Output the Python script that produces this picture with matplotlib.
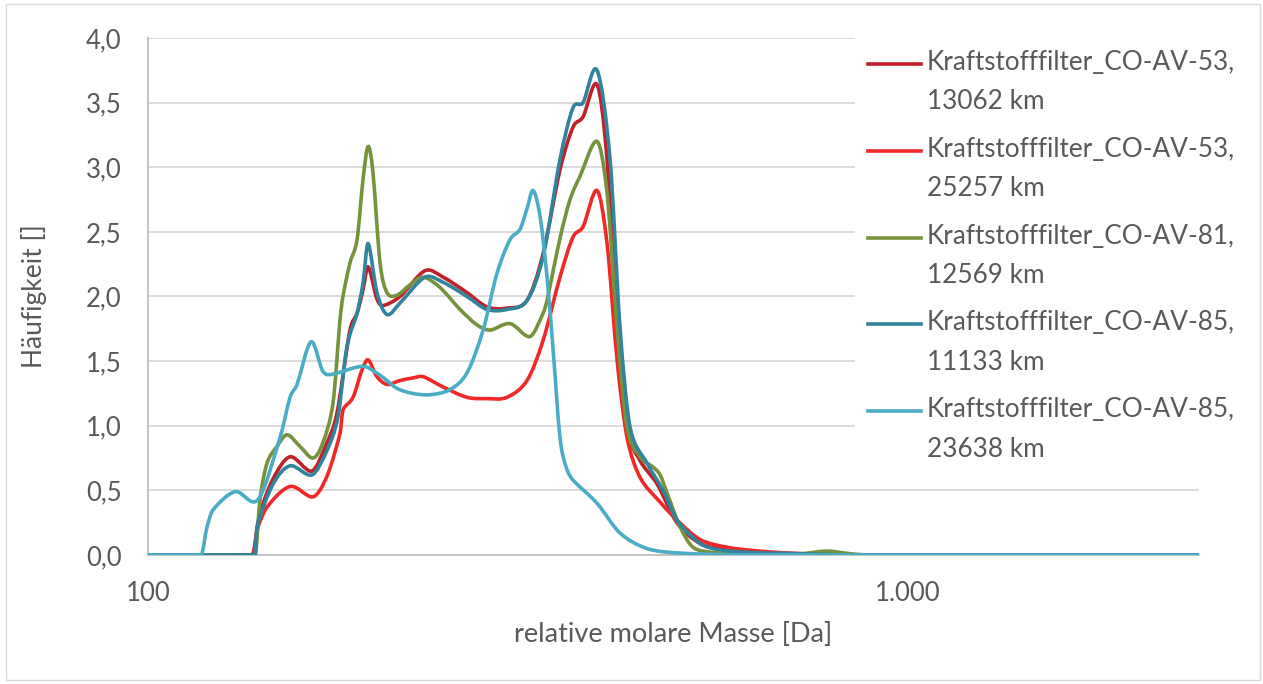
import matplotlib
matplotlib.use('Agg')
import numpy as np
import matplotlib.pyplot as plt
from matplotlib.ticker import FixedLocator, FuncFormatter, NullLocator
from matplotlib.lines import Line2D
from matplotlib.patches import Rectangle, PathPatch
from matplotlib.path import Path

plt.rcParams['font.family'] = ['Lato', 'DejaVu Sans']

# relative molare Masse [Da] und Häufigkeit
m1 = [100, 137.0, 140.4, 146.1, 153.8, 164.4, 172.0, 177.3, 184.4, 188.4, 191.8, 194.8, 200.1,
      203.8, 214.6, 231.5, 244.5, 262.9, 279.3, 296.7, 315.3, 331.0, 348.4, 362.4, 373.6, 389.8,
      401.8, 414.2, 426.9, 444.1, 467.5, 496.7, 532.5, 577.9, 638.7, 720.9, 838.9, 2415]
h1 = [0, 0, 0.32, 0.59, 0.76, 0.65, 0.87, 1.10, 1.74, 1.87, 2.05, 2.23, 1.98,
      1.93, 2.00, 2.20, 2.15, 2.03, 1.92, 1.91, 1.97, 2.33, 2.98, 3.31, 3.39, 3.64,
      3.06, 1.76, 0.99, 0.73, 0.55, 0.25, 0.09, 0.04, 0.02, 0.01, 0, 0]

m2 = [100, 137.5, 139.1, 143.4, 153.8, 164.9, 172.0, 178.9, 180.5, 186.1, 191.2, 194.8, 200.1,
      206.3, 214.6, 223.2, 230.1, 244.5, 262.9, 279.3, 296.7, 315.3, 331.0, 348.4, 362.4, 373.6,
      389.8, 401.8, 414.2, 426.9, 444.1, 471.8, 496.7, 532.5, 577.9, 638.7, 720.9, 838.9, 2415]
h2 = [0, 0, 0.19, 0.37, 0.53, 0.45, 0.61, 0.94, 1.12, 1.22, 1.43, 1.51, 1.38,
      1.32, 1.35, 1.37, 1.38, 1.30, 1.22, 1.21, 1.22, 1.35, 1.66, 2.15, 2.46, 2.54,
      2.82, 2.41, 1.51, 0.91, 0.60, 0.41, 0.27, 0.12, 0.06, 0.03, 0.01, 0, 0]

m3 = [100, 138.3, 140.4, 143.4, 147.8, 152.4, 158.5, 164.9, 169.9, 175.2, 178.9, 180.5, 184.4,
      188.4, 191.8, 194.8, 197.7, 202.0, 206.3, 212.6, 221.2, 230.1, 242.2, 257.4, 271.0, 281.8,
      299.5, 318.2, 331.0, 335.0, 348.4, 359.2, 370.2, 389.8, 401.8, 414.2, 426.9, 444.1, 461.9,
      471.8, 481.9, 501.2, 521.3, 553.9, 619.7, 720.9, 782.4, 838.9, 891.3, 2415]
h3 = [0, 0, 0.43, 0.71, 0.84, 0.93, 0.84, 0.75, 0.87, 1.18, 1.82, 2.00, 2.26,
      2.44, 2.90, 3.16, 2.96, 2.26, 2.03, 2.01, 2.09, 2.15, 2.07, 1.90, 1.78, 1.74,
      1.79, 1.69, 1.87, 1.97, 2.45, 2.75, 2.93, 3.20, 2.80, 1.76, 0.99, 0.76, 0.68,
      0.62, 0.48, 0.22, 0.06, 0.02, 0.005, 0.01, 0.03, 0.01, 0, 0]

m4 = [100, 138.3, 139.1, 146.1, 153.8, 164.4, 172.0, 177.8, 182.7, 188.4, 191.8, 194.8, 200.1,
      206.3, 214.6, 231.5, 244.5, 262.9, 279.3, 296.7, 315.3, 331.0, 348.4, 362.4, 373.6, 389.8,
      405.5, 417.9, 430.8, 453.6, 476.1, 496.7, 532.5, 565.7, 620.0, 720.9, 838.9, 2415]
h4 = [0, 0, 0.22, 0.55, 0.69, 0.62, 0.81, 1.07, 1.61, 1.87, 2.10, 2.41, 2.03,
      1.86, 1.95, 2.15, 2.11, 2.00, 1.90, 1.90, 1.97, 2.31, 3.06, 3.46, 3.50, 3.75,
      3.06, 1.76, 0.99, 0.71, 0.50, 0.27, 0.09, 0.04, 0.02, 0.01, 0, 0]

m5 = [100, 117.4, 119.6, 121.8, 130.2, 139.6, 149.2, 153.8, 157.1, 163.9, 169.9, 175.2, 191.8,
      202.0, 212.6, 223.2, 235.0, 249.7, 262.9, 276.0, 287.9, 299.5, 308.7, 315.3, 321.1, 328.0,
      335.0, 341.1, 348.4, 355.0, 362.4, 389.8, 417.9, 453.6, 501.2, 620.0, 2415]
h5 = [0, 0, 0.22, 0.35, 0.49, 0.43, 0.91, 1.22, 1.32, 1.65, 1.42, 1.40, 1.46,
      1.39, 1.29, 1.25, 1.24, 1.28, 1.41, 1.74, 2.18, 2.44, 2.52, 2.68, 2.82, 2.62,
      2.15, 1.60, 0.91, 0.68, 0.58, 0.40, 0.17, 0.05, 0.015, 0, 0]

labels = ['Kraftstofffilter_CO-AV-53,\n13062 km',
          'Kraftstofffilter_CO-AV-53,\n25257 km',
          'Kraftstofffilter_CO-AV-81,\n12569 km',
          'Kraftstofffilter_CO-AV-85,\n11133 km',
          'Kraftstofffilter_CO-AV-85,\n23638 km']
colors = ['#C0202A', '#F02828', '#76923C', '#31849B', '#4BACC6']
series = [(m1, h1), (m2, h2), (m3, h3), (m4, h4), (m5, h5)]


def smooth_path(m, h):
    # geglättete Linie wie in Excel (Bezier durch die Punkte, in log-x)
    x = np.log10(m)
    y = np.asarray(h, float)
    n = len(x)
    # Tangenten; an Nullpunkten flach, damit nichts unter 0 schwingt
    tx = np.zeros(n)
    ty = np.zeros(n)
    for i in range(n):
        a = max(i - 1, 0)
        b = min(i + 1, n - 1)
        tx[i] = (x[b] - x[a]) / 6
        ty[i] = 0 if y[i] == 0 else (y[b] - y[a]) / 6
    verts = [(x[0], y[0])]
    codes = [Path.MOVETO]
    for i in range(n - 1):
        seg = x[i + 1] - x[i]
        s0 = min(1, seg / 3 / max(tx[i], 1e-9))
        s1 = min(1, seg / 3 / max(tx[i + 1], 1e-9))
        c1 = (x[i] + tx[i] * s0, y[i] + ty[i] * s0)
        c2 = (x[i + 1] - tx[i + 1] * s1, y[i + 1] - ty[i + 1] * s1)
        verts += [c1, c2, (x[i + 1], y[i + 1])]
        codes += [Path.CURVE4] * 3
    verts = [(10 ** vx, vy) for vx, vy in verts]
    return Path(verts, codes)


W, H = 1263, 684
fig = plt.figure(figsize=(W / 100, H / 100), dpi=100)
L, R, T, B = 148, 1199, 38, 555
ax = fig.add_axes([L / W, 1 - B / H, (R - L) / W, (B - T) / H])

ax.set_xscale('log')
ax.set_xlim(100, 2415)
ax.set_ylim(0, 4.0)

for (m, h), c in zip(series, colors):
    ax.add_patch(PathPatch(smooth_path(m, h), facecolor='none', edgecolor=c, lw=2.6,
                           joinstyle='round', capstyle='butt', zorder=3))

ax.xaxis.set_major_locator(FixedLocator([100, 1000]))
ax.xaxis.set_minor_locator(NullLocator())
ax.xaxis.set_major_formatter(FuncFormatter(lambda v, p: '{:,.0f}'.format(v).replace(',', '.')))
ax.set_yticks([0, 0.5, 1.0, 1.5, 2.0, 2.5, 3.0, 3.5, 4.0])
ax.yaxis.set_major_formatter(FuncFormatter(lambda v, p: '{:.1f}'.format(v).replace('.', ',')))

ax.grid(axis='y', color='#D9D9D9', lw=1.3, zorder=0)
ax.set_axisbelow(True)
for s in ['top', 'right']:
    ax.spines[s].set_visible(False)
for s in ['left', 'bottom']:
    ax.spines[s].set_color('#BFBFBF')
    ax.spines[s].set_linewidth(1.3)
ax.tick_params(length=0, labelsize=18.5, labelcolor='#595959', pad=19)

ax.set_xlabel('relative molare Masse [Da]', fontsize=19.5, color='#595959')
ax.set_ylabel('Häufigkeit []', fontsize=19, color='#595959')
ax.xaxis.set_label_coords(0.5, (B - 622) / (B - T))
ax.yaxis.set_label_coords((47 - L) / (R - L), 0.5)

# Legende wie in Excel: weisser Kasten, Linie auf Höhe der ersten Textzeile
fig.add_artist(Rectangle((855 / W, 1 - 470 / H), (R - 855) / W, (470 - 30) / H,
                         transform=fig.transFigure, facecolor='white', edgecolor='none', zorder=2))
for i, (lab, c) in enumerate(zip(labels, colors)):
    yy = 64 + i * 86.8
    fig.add_artist(Line2D([868 / W, 921 / W], [1 - yy / H, 1 - yy / H], color=c, lw=2.6,
                          transform=fig.transFigure, zorder=4))
    fig.text(927 / W, 1 - (yy - 14) / H, lab, fontsize=18.8, color='#595959', va='top',
             linespacing=1.72, zorder=4)

fig.add_artist(Rectangle((6 / W, 4 / H), 1254 / W, 676 / H, transform=fig.transFigure,
                         facecolor='none', edgecolor='#D9D9D9', lw=1))

fig.savefig('out.png', dpi=100)
